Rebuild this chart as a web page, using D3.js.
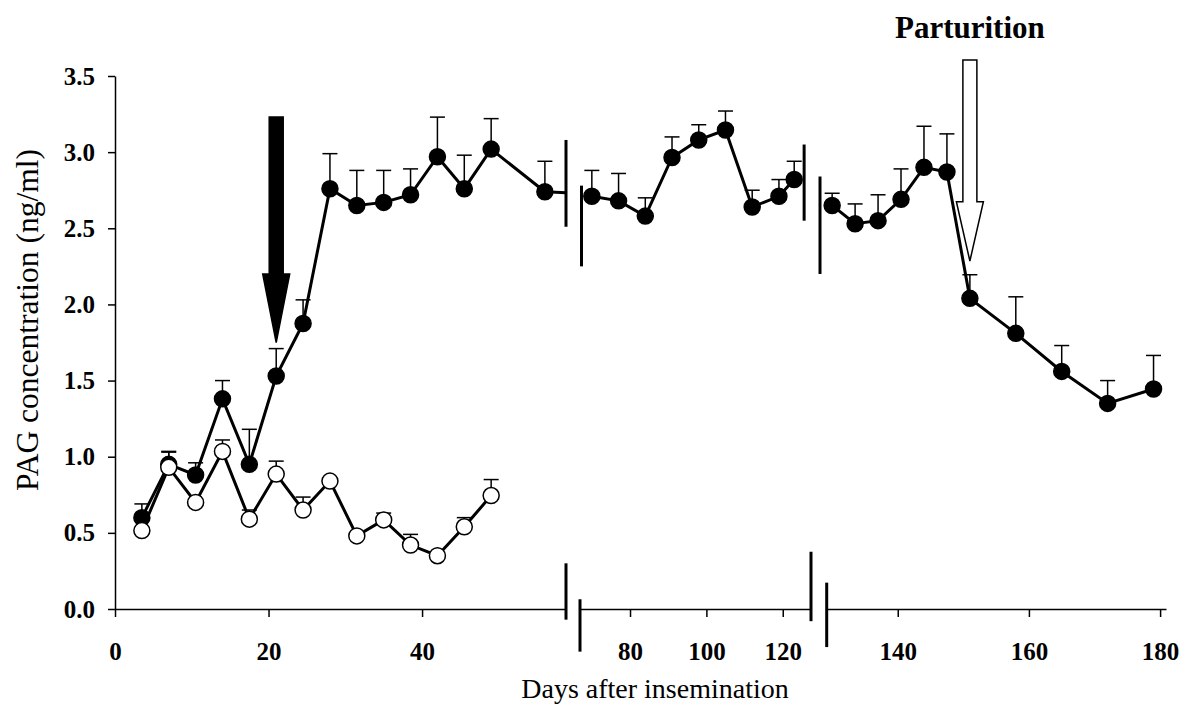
<!DOCTYPE html>
<html>
<head>
<meta charset="utf-8">
<script src="https://cdn.jsdelivr.net/npm/d3@7"></script>
<style>
  body { margin: 0; background: #fff; }
  text { font-family: "Times New Roman", "Liberation Serif", serif; fill: #000; }
</style>
</head>
<body>
<div id="chart"></div>
<script>
// inseminated cows (filled) - three pieces of a broken time axis
const daysA1 = [3.5, 7, 10.5, 14, 17.5, 21, 24.5, 28, 31.5, 35, 38.5, 42, 45.5, 49, 56]
const valsA1 = [0.60, 0.95, 0.88, 1.38, 0.95, 1.53, 1.875, 2.76, 2.65, 2.67, 2.72, 2.97, 2.76, 3.02, 2.74]
const seA1   = [0.09, 0.085, 0.08, 0.12, 0.23, 0.18, 0.155, 0.23, 0.23, 0.21, 0.17, 0.26, 0.22, 0.20, 0.20]

const daysA2 = [70, 77, 84, 91, 98, 105, 112, 119, 123]
const valsA2 = [2.71, 2.68, 2.58, 2.965, 3.08, 3.145, 2.64, 2.71, 2.82]
const seA2   = [0.17, 0.18, 0.12, 0.135, 0.10, 0.125, 0.11, 0.11, 0.12]

const daysA3 = [130, 133.5, 137, 140.5, 144, 147.5, 151, 158, 165, 172, 179]
const valsA3 = [2.65, 2.53, 2.55, 2.69, 2.90, 2.87, 2.04, 1.81, 1.56, 1.35, 1.445]
const seA3   = [0.08, 0.13, 0.17, 0.20, 0.27, 0.25, 0.155, 0.24, 0.17, 0.15, 0.22]

// non-pregnant / control (open)
const daysB = [3.5, 7, 10.5, 14, 17.5, 21, 24.5, 28, 31.5, 35, 38.5, 42, 45.5, 49]
const valsB = [0.515, 0.93, 0.70, 1.035, 0.59, 0.886, 0.65, 0.84, 0.48, 0.585, 0.42, 0.35, 0.54, 0.745]
const seB   = [0.02, 0.10, 0.02, 0.075, 0.06, 0.085, 0.085, 0.02, 0.02, 0.045, 0.07, 0.02, 0.06, 0.105]

// axis pieces
const segDomains = [[0, 58.75], [66.9, 127.4], [129.17, 180.9]]
const segTicks = [[0, 20, 40], [80, 100, 120], [140, 160, 180]]
const yTicks = [0, 0.5, 1, 1.5, 2, 2.5, 3, 3.5]

// break marks: [segment, day, high, low]
const lineBreaks = [[0, 58.75, 3.08, 2.51], [1, 67.3, 2.78, 2.25], [1, 125.6, 3.05, 2.55], [2, 128.15, 2.84, 2.20]]
const axisBreaks = [[0, 58.75, 0.30, -0.07], [1, 66.9, 0.064, -0.28], [1, 127.4, 0.376, -0.08], [2, 129.17, 0.173, -0.25]]

// arrows: day, top, head base, tip
const arrowInsem = {seg: 0, day: 21, top: 3.23, base: 2.2, tip: 1.75}
const arrowPart = {seg: 2, day: 151, top: 3.605, base: 2.675, tip: 2.285}

const width = 1182
const height = 711

const svg = d3.select("#chart").append("svg")
    .attr("width", width)
    .attr("height", height)

const y = d3.scaleLinear().domain([0, 3.5]).range([609, 76])

const ranges = [[115, 566], [580, 811], [826.7, 1166]]
const xs = segDomains.map((d, i) => d3.scaleLinear().domain(d).range(ranges[i]))

// y axis
const yAxis = svg.append("g")
    .attr("transform", `translate(${ranges[0][0]},0)`)
    .call(d3.axisLeft(y).tickValues(yTicks).tickFormat(d3.format(".1f")).tickSize(7).tickSizeOuter(0).tickPadding(13))
yAxis.selectAll("text").style("font-size", "25px").style("font-weight", "bold")
yAxis.selectAll("line,path").attr("stroke", "#000").attr("stroke-width", 1.5)

// x axis pieces
xs.forEach((x, i) => {
    const g = svg.append("g")
        .attr("transform", `translate(0,${y(0)})`)
        .call(d3.axisBottom(x).tickValues(segTicks[i]).tickSize(8).tickSizeOuter(0).tickPadding(25))
    g.selectAll("text").style("font-size", "25px").style("font-weight", "bold")
    g.selectAll("line,path").attr("stroke", "#000").attr("stroke-width", 1.5)
})

axisBreaks.forEach(b => {
    svg.append("line")
        .attr("x1", xs[b[0]](b[1])).attr("x2", xs[b[0]](b[1]))
        .attr("y1", y(b[2])).attr("y2", y(b[3]))
        .attr("stroke", "#000").attr("stroke-width", 3)
})

// error bars (upper only)
function errorBars(days, vals, se, x) {
    days.forEach((d, i) => {
        const cx = x(d)
        svg.append("line")
            .attr("x1", cx).attr("x2", cx)
            .attr("y1", y(vals[i])).attr("y2", y(vals[i] + se[i]))
            .attr("stroke", "#000").attr("stroke-width", 1.5)
        svg.append("line")
            .attr("x1", cx - 7.5).attr("x2", cx + 7.5)
            .attr("y1", y(vals[i] + se[i])).attr("y2", y(vals[i] + se[i]))
            .attr("stroke", "#000").attr("stroke-width", 1.5)
    })
}

function series(days, vals, x, fill) {
    const pts = days.map((d, i) => ({day: d, v: vals[i]}))
    svg.append("path")
        .datum(pts)
        .attr("fill", "none")
        .attr("stroke", "#000")
        .attr("stroke-width", 3)
        .attr("d", d3.line().x(d => x(d.day)).y(d => y(d.v)))
    svg.selectAll(null).data(pts).enter().append("circle")
        .attr("cx", d => x(d.day))
        .attr("cy", d => y(d.v))
        .attr("r", 8)
        .attr("fill", fill)
        .attr("stroke", "#000")
        .attr("stroke-width", 1.5)
}

const A = [[daysA1, valsA1, seA1], [daysA2, valsA2, seA2], [daysA3, valsA3, seA3]]
A.forEach((s, i) => errorBars(s[0], s[1], s[2], xs[i]))
errorBars(daysB, valsB, seB, xs[0])

// tail of first piece runs on to the break, heading for the next point
const lastA1 = daysA1.length - 1
const tailV = valsA1[lastA1] + (valsA2[0] - valsA1[lastA1]) * (segDomains[0][1] - daysA1[lastA1]) / (daysA2[0] - daysA1[lastA1])
svg.append("line")
    .attr("x1", xs[0](daysA1[lastA1])).attr("y1", y(valsA1[lastA1]))
    .attr("x2", xs[0](segDomains[0][1])).attr("y2", y(tailV))
    .attr("stroke", "#000").attr("stroke-width", 3)

A.forEach((s, i) => series(s[0], s[1], xs[i], "#000"))
series(daysB, valsB, xs[0], "#fff")

lineBreaks.forEach(b => {
    svg.append("line")
        .attr("x1", xs[b[0]](b[1])).attr("x2", xs[b[0]](b[1]))
        .attr("y1", y(b[2])).attr("y2", y(b[3]))
        .attr("stroke", "#000").attr("stroke-width", 3)
})

// arrows
function arrow(a, fill) {
    const cx = xs[a.seg](a.day)
    const p = d3.path()
    p.moveTo(cx - 7, y(a.top))
    p.lineTo(cx + 7, y(a.top))
    p.lineTo(cx + 7, y(a.base))
    p.lineTo(cx + 13.5, y(a.base))
    p.lineTo(cx, y(a.tip))
    p.lineTo(cx - 13.5, y(a.base))
    p.lineTo(cx - 7, y(a.base))
    p.closePath()
    svg.append("path")
        .attr("d", p.toString())
        .attr("fill", fill)
        .attr("stroke", "#000")
        .attr("stroke-width", 1.5)
}
arrow(arrowInsem, "#000")
arrow(arrowPart, "#fff")

svg.append("text")
    .attr("x", xs[arrowPart.seg](arrowPart.day))
    .attr("y", 38)
    .attr("text-anchor", "middle")
    .style("font-size", "31px")
    .style("font-weight", "bold")
    .text("Parturition")

// axis titles
svg.append("text")
    .attr("x", 655)
    .attr("y", 698)
    .attr("text-anchor", "middle")
    .style("font-size", "28px")
    .text("Days after insemination")

svg.append("text")
    .attr("transform", "translate(38,320) rotate(-90)")
    .attr("text-anchor", "middle")
    .style("font-size", "31.5px")
    .text("PAG concentration (ng/ml)")
</script>
</body>
</html>
